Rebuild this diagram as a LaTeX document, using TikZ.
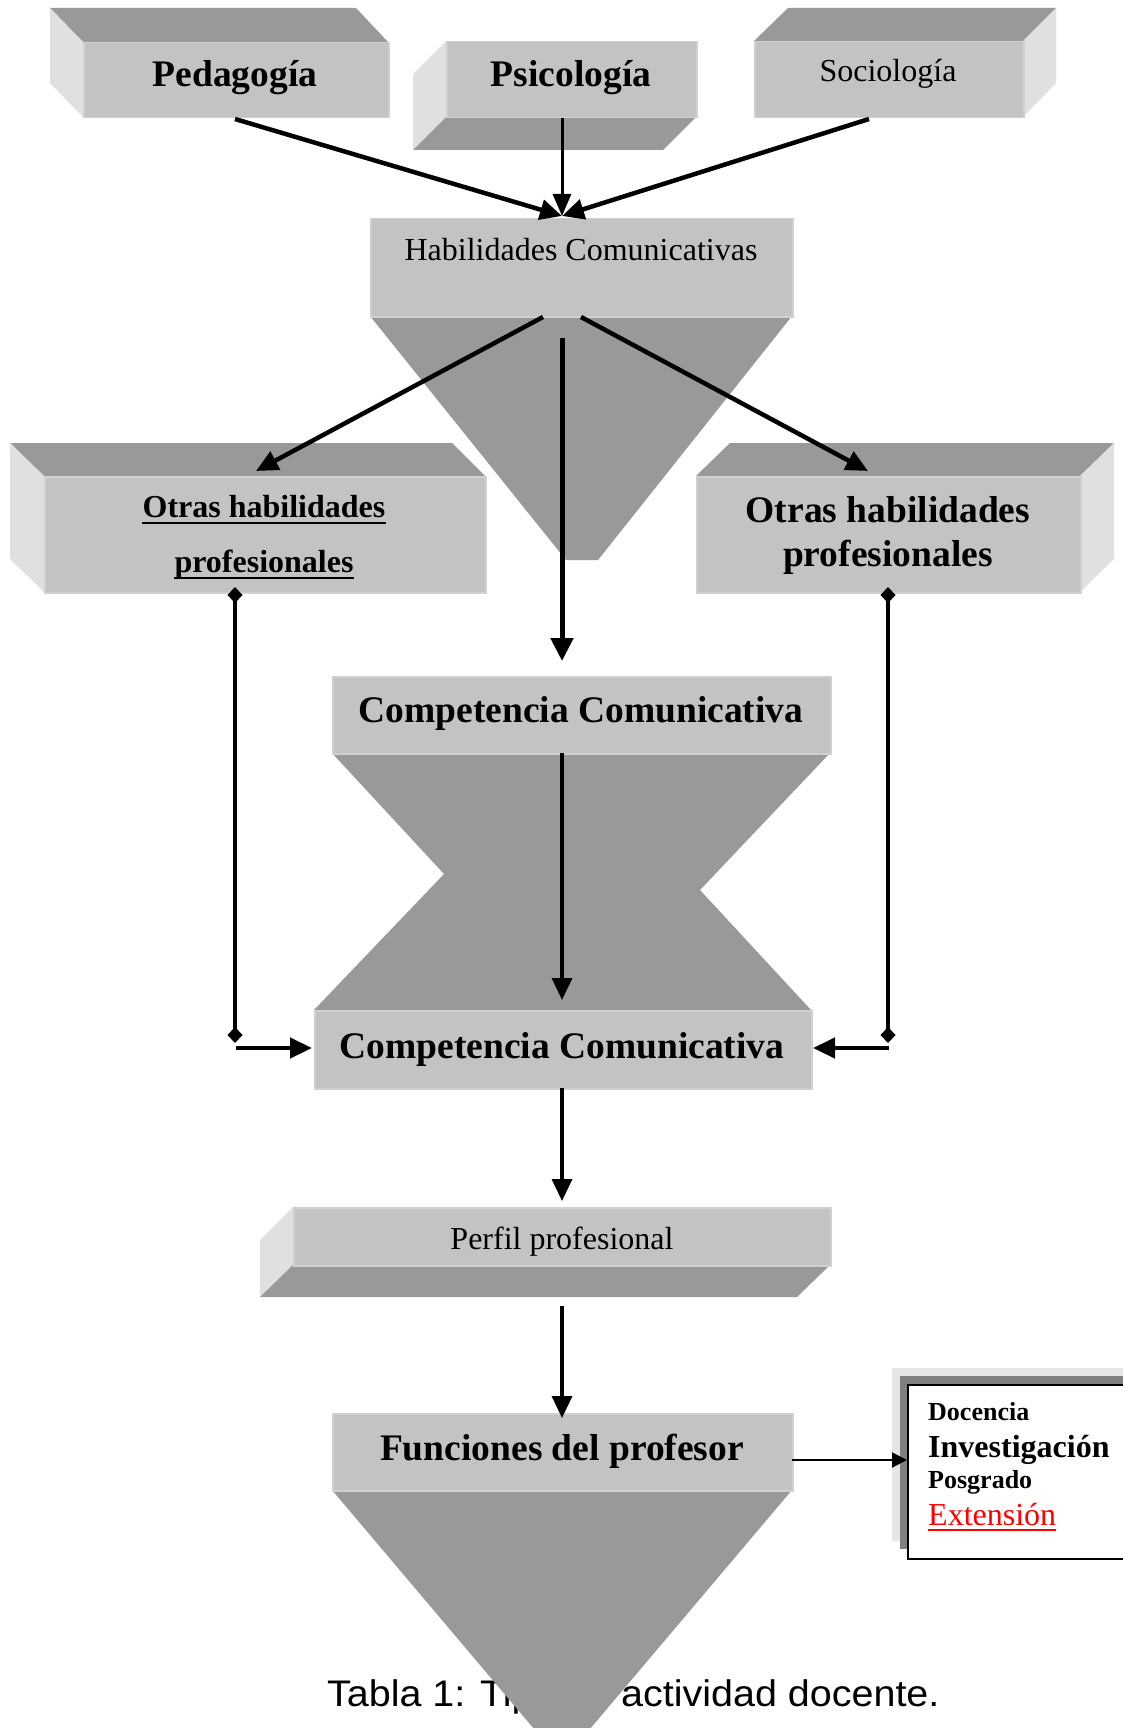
\documentclass[tikz,border=0pt]{standalone}
\usepackage{fontspec}
\setmainfont{Liberation Serif}
\newfontfamily\capfont{Liberation Sans}
\usetikzlibrary{arrows.meta,calc}
\definecolor{frontg}{RGB}{195,195,195}
\definecolor{edgeg}{RGB}{208,208,208}
\definecolor{darkg}{RGB}{153,153,153}
\definecolor{lightg}{RGB}{224,224,224}
\definecolor{shadg}{RGB}{128,128,128}
\definecolor{shadl}{RGB}{229,229,229}
\newcommand\fsz[1]{\fontsize{#1}{#1}\selectfont}
\begin{document}
\begin{tikzpicture}[x=1pt,y=-1pt,
  front/.style={fill=frontg, draw=edgeg, line width=1.5pt, inner sep=0pt, anchor=north west},
  darkface/.style={fill=darkg},
  lightface/.style={fill=lightg},
  lbl/.style={inner sep=0pt, anchor=base},
  lbll/.style={inner sep=0pt, anchor=base west},
  con/.style={line width=4.5pt, -{Triangle[length=22pt,width=20pt]}},
  conm/.style={line width=3.5pt, -{Triangle[length=22pt,width=20pt]}},
  dcon/.style={line width=3.5pt, {Diamond[length=16pt,width=15pt]}-{Diamond[length=16pt,width=15pt]}},
  thincon/.style={line width=2pt, -{Triangle[length=15pt,width=15pt]}},
  ul/.style={line width=2.5pt}]
\useasboundingbox (0,0) rectangle (1123,1728);
\begin{scope}
\clip (0,0) rectangle (1123,1728);

% ---------- Pedagogia ----------
\fill[darkface] (50,8) -- (356,8) -- (388,42) -- (83,42) -- cycle;
\fill[lightface] (50,8) -- (83,42) -- (83,117) -- (50,83) -- cycle;
\node[front, minimum width=305pt, minimum height=75pt] (ped) at (83,42) {};
% ---------- Psicologia ----------
\fill[lightface] (413,74) -- (446,41) -- (446,117) -- (413,150) -- cycle;
\fill[darkface] (446,117) -- (696,117) -- (663,150) -- (413,150) -- cycle;
\node[front, minimum width=250pt, minimum height=76pt] (psi) at (446,41) {};
% ---------- Sociologia ----------
\fill[darkface] (788,8) -- (1056,8) -- (1023,41) -- (754,41) -- cycle;
\fill[lightface] (1023,41) -- (1056,8) -- (1056,83) -- (1023,117) -- cycle;
\node[front, minimum width=269pt, minimum height=76pt] (soc) at (754,41) {};

% ---------- Habilidades ----------
\fill[darkface] (370,316) -- (792,316) -- (598,560) -- (566,560) -- cycle;
\node[front, minimum width=422pt, minimum height=98pt] (hab) at (370,218) {};

% ---------- Otras (left) ----------
\fill[darkface] (10,443) -- (452,443) -- (485,476) -- (44,476) -- cycle;
\fill[lightface] (10,443) -- (44,476) -- (44,592) -- (10,559) -- cycle;
\node[front, minimum width=441pt, minimum height=116pt] (otl) at (44,476) {};
% ---------- Otras (right) ----------
\fill[darkface] (730,443) -- (1114,443) -- (1080,476) -- (696,476) -- cycle;
\fill[lightface] (1080,476) -- (1114,443) -- (1114,559) -- (1080,592) -- cycle;
\node[front, minimum width=384pt, minimum height=116pt] (otr) at (696,476) {};

% ---------- Competencia hourglass ----------
\fill[darkface] (332,753) -- (830,753) -- (700,890) -- (811,1010) -- (314,1010) -- (444,874) -- cycle;
\node[front, minimum width=498pt, minimum height=77pt] (comA) at (332,676) {};
\node[front, minimum width=497pt, minimum height=78pt] (comB) at (314,1010) {};

% ---------- Perfil ----------
\fill[lightface] (260,1240) -- (293,1207) -- (293,1265) -- (260,1297) -- cycle;
\fill[darkface] (293,1265) -- (830,1265) -- (797,1297) -- (260,1297) -- cycle;
\node[front, minimum width=537pt, minimum height=58pt] (per) at (293,1207) {};

% ---------- caption (behind triangle) ----------
\node[lbll] (cap) at (327,1706) {\capfont\fsz{37}\scalebox{1.067}[1]{Tabla 1: Tipo de actividad docente.}};

% ---------- Funciones ----------
\fill[darkface] (332,1490) -- (792,1490) -- (562,1762) -- cycle;
\node[front, minimum width=460pt, minimum height=77pt] (fun) at (332,1413) {};

% ---------- right box ----------
\fill[shadl] (892,1368) rectangle (1130,1541);
\fill[shadg] (900,1376) rectangle (1130,1549);
\node[draw=black, fill=white, line width=1.5pt, inner sep=0pt, anchor=north west,
      minimum width=240pt, minimum height=174pt] (lst) at (907,1384) {};
\end{scope}

% ---------- texts ----------
\node[lbl] (tped) at (235,87) {\fsz{37.5}\bfseries Pedagogía};
\node[lbl] (tpsi) at (571,87) {\fsz{37.5}\bfseries Psicología};
\node[lbl] (tsoc) at (888,82) {\fsz{32}Sociología};
\node[lbl] (thab) at (581,261) {\fsz{32}Habilidades Comunicativas};
\node[lbl] (tol1) at (264,517) {\fsz{32}\bfseries Otras habilidades};
\node[lbl] (tol2) at (264,572) {\fsz{32}\bfseries profesionales};
\draw[ul] ([yshift=-6pt]tol1.base west) -- ([yshift=-6pt]tol1.base east);
\draw[ul] ([yshift=-6pt]tol2.base west) -- ([yshift=-6pt]tol2.base east);
\node[lbl] (tor1) at (888,522) {\fsz{37.5}\bfseries Otras habilidades};
\node[lbl] (tor2) at (888,566) {\fsz{37.5}\bfseries profesionales};
\node[lbl] (tcA) at (581,722) {\fsz{37.5}\bfseries Competencia Comunicativa};
\node[lbl] (tcB) at (562,1058) {\fsz{37.5}\bfseries Competencia Comunicativa};
\node[lbl] (tper) at (562,1249) {\fsz{32}Perfil profesional};
\node[lbl] (tfun) at (562,1460) {\fsz{37.5}\bfseries Funciones del profesor};
\node[lbll] (l1) at (928,1420) {\fsz{26}\bfseries Docencia};
\node[lbll] (l2) at (928,1457) {\fsz{32}\bfseries Investigación};
\node[lbll] (l3) at (928,1488) {\fsz{26}\bfseries Posgrado};
\node[lbll, text=red] (l4) at (928,1525) {\fsz{32}Extensión};
\draw[red, line width=1.5pt] ([yshift=-5pt]l4.base west) -- ([yshift=-5pt]l4.base east);

% ---------- connector end points ----------
\coordinate (pedout) at (235,119);
\coordinate (psiout) at (562,118);
\coordinate (socout) at (869,119);
\coordinate (hin) at (562,216);
\coordinate (habL) at (543,317);
\coordinate (habR) at (581,317);
\coordinate (habD) at (562,338);
\coordinate (otlin) at (256,471);
\coordinate (otrin) at (868,471);
\coordinate (comAin) at (562,661);
\coordinate (comAout) at (562,753);
\coordinate (comBin) at (562,1000);
\coordinate (comBout) at (562,1088);
\coordinate (perin) at (562,1201);
\coordinate (perout) at (562,1306);
\coordinate (funin) at (562,1418);
\coordinate (otlout) at (235,587);
\coordinate (lcorner) at (235,1043);
\coordinate (lh) at (236,1048);
\coordinate (comBL) at (312,1048);
\coordinate (otrout) at (888,587);
\coordinate (rcorner) at (888,1043);
\coordinate (rh) at (889,1048);
\coordinate (comBR) at (813,1048);
\coordinate (funout) at (792,1460);
\coordinate (lstin) at (907,1460);

% ---------- connectors ----------
\draw[con] (pedout) -- (hin);
\draw[line width=3pt, -{Triangle[length=22pt,width=18pt]}] (psiout) -- (hin);
\draw[con] (socout) -- (hin);
\draw[con] (habL) -- (otlin);
\draw[con] (habR) -- (otrin);
\draw[line width=5pt, -{Triangle[length=23pt,width=22pt]}] (habD) -- (comAin);
\draw[conm] (comAout) -- (comBin);
\draw[conm] (comBout) -- (perin);
\draw[conm] (perout) -- (funin);
\draw[dcon] (otlout) -- (lcorner);
\draw[con] (lh) -- (comBL);
\draw[dcon] (otrout) -- (rcorner);
\draw[con] (rh) -- (comBR);
\draw[thincon] (funout) -- (lstin);
\end{tikzpicture}
\end{document}
